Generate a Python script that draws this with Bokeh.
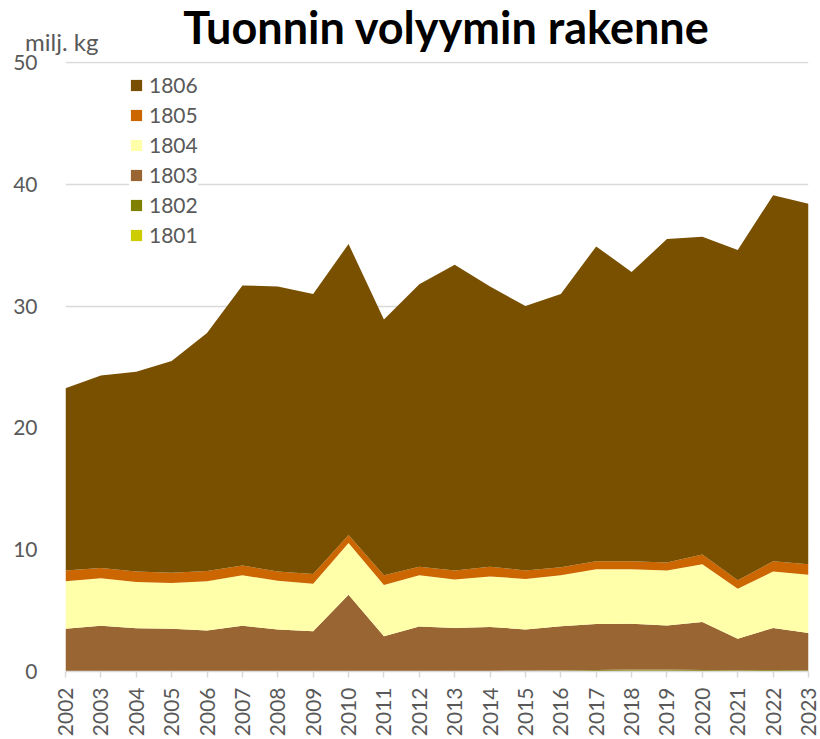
import math
from bokeh.plotting import figure
from bokeh.layouts import column
from bokeh.models import (ColumnDataSource, Legend, LegendItem, Div,
                          FixedTicker, Range1d)
from bokeh.core.properties import value
from bokeh.embed import file_html
from bokeh.resources import INLINE

years = [2002, 2003, 2004, 2005, 2006, 2007, 2008, 2009, 2010, 2011, 2012,
         2013, 2014, 2015, 2016, 2017, 2018, 2019, 2020, 2021, 2022, 2023]
year_labels = [str(y) for y in years]

v1801 = [0.02, 0.02, 0.02, 0.02, 0.02, 0.02, 0.02, 0.02, 0.02, 0.02, 0.02,
         0.02, 0.02, 0.02, 0.03, 0.05, 0.06, 0.06, 0.05, 0.04, 0.05, 0.04]
v1802 = [0.03, 0.03, 0.03, 0.03, 0.03, 0.03, 0.03, 0.03, 0.03, 0.03, 0.03,
         0.03, 0.03, 0.04, 0.05, 0.08, 0.10, 0.10, 0.08, 0.06, 0.08, 0.06]
v1803 = [3.45, 3.70, 3.50, 3.45, 3.31, 3.70, 3.40, 3.25, 6.25, 2.85, 3.65,
         3.53, 3.61, 3.39, 3.64, 3.77, 3.77, 3.61, 3.94, 2.58, 3.45, 3.07]
v1804 = [3.90, 3.90, 3.80, 3.77, 4.04, 4.15, 4.00, 3.90, 4.25, 4.20, 4.20,
         3.97, 4.14, 4.15, 4.18, 4.50, 4.47, 4.53, 4.73, 4.12, 4.62, 4.78]
v1805 = [0.90, 0.85, 0.85, 0.83, 0.85, 0.80, 0.75, 0.80, 0.65, 0.80, 0.70,
         0.75, 0.80, 0.70, 0.65, 0.65, 0.65, 0.65, 0.80, 0.70, 0.85, 0.85]
v1806 = [14.95, 15.80, 16.40, 17.40, 19.55, 23.00, 23.40, 23.00, 23.90, 21.00, 23.20,
         25.10, 23.00, 21.70, 22.45, 25.85, 23.75, 26.55, 26.10, 27.10, 30.05, 29.60]

series = ["1801", "1802", "1803", "1804", "1805", "1806"]
colors = ["#CCCC00", "#808000", "#996633", "#FFFFAA", "#CC6600", "#785000"]

title_text = "Tuonnin volyymin rakenne"
unit_text = "milj. kg"

FONT = "Lato"
GREY = "#595959"

# ---------- header (title + unit) ----------
header_html = (
    '<div style="position:relative;width:820px;height:60px;margin:0;padding:0;">'
    '<span style="position:absolute;left:446px;top:5px;transform:translateX(-50%);'
    'white-space:nowrap;font-family:Lato;font-weight:bold;font-size:45px;'
    'line-height:1;color:#000000;">' + title_text + '</span>'
    '<span style="position:absolute;left:25px;top:30px;white-space:nowrap;'
    'font-family:Lato;font-size:24px;line-height:1;color:' + GREY + ';">'
    + unit_text + '</span></div>'
)
hdr = Div(text=header_html, width=820, height=60,
          styles={"margin": "0", "padding": "0", "overflow": "visible",
                  "position": "relative", "z-index": "1"})

# ---------- main chart ----------
source = ColumnDataSource(dict(year=years, s1801=v1801, s1802=v1802, s1803=v1803,
                               s1804=v1804, s1805=v1805, s1806=v1806))

p = figure(width=820, height=691, output_backend="svg", toolbar_location=None,
           title=None, x_range=Range1d(2002, 2023), y_range=Range1d(0, 50.08),
           min_border_left=65, min_border_right=12, min_border_top=13,
           min_border_bottom=67)
p.margin = (-12, 0, 0, 0)
p.outline_line_color = None
p.background_fill_color = "white"
p.border_fill_alpha = 0

renderers = p.varea_stack(stackers=["s" + s for s in series], x="year",
                          color=colors, source=source)

p.xaxis.ticker = FixedTicker(ticks=years)
p.xaxis.major_label_overrides = {y: l for y, l in zip(years, year_labels)}
p.xaxis.major_label_orientation = math.pi / 2
p.xaxis.axis_line_color = "#D9D9D9"
p.xaxis.axis_line_width = 1.5
p.xaxis.major_tick_line_color = "#D9D9D9"
p.xaxis.major_tick_line_width = 1.5
p.xaxis.major_tick_in = 0
p.xaxis.major_tick_out = 6
p.xaxis.minor_tick_line_color = None
p.xaxis.major_label_text_font = FONT
p.xaxis.major_label_text_font_size = "21px"
p.xaxis.major_label_text_color = GREY
p.xaxis.major_label_standoff = 10

p.yaxis.ticker = FixedTicker(ticks=[0, 10, 20, 30, 40, 50])
p.yaxis.axis_line_color = None
p.yaxis.major_tick_line_color = None
p.yaxis.minor_tick_line_color = None
p.yaxis.major_label_text_font = FONT
p.yaxis.major_label_text_font_size = "21px"
p.yaxis.major_label_text_color = GREY
p.yaxis.major_label_standoff = 22

p.xgrid.grid_line_color = None
p.ygrid.grid_line_color = "#D9D9D9"
p.ygrid.grid_line_width = 1.5

items = [LegendItem(label=value(s), renderers=[r]) for s, r in zip(series, renderers)]
items = items[::-1]
legend = Legend(items=items, location=(64, 424), orientation="vertical",
                background_fill_color="white", background_fill_alpha=1.0,
                border_line_color=None, padding=10, spacing=5,
                glyph_width=14, glyph_height=14, label_height=25,
                label_standoff=6, margin=0,
                label_text_font=FONT, label_text_font_size="21px",
                label_text_color=GREY)
p.add_layout(legend, "center")

layout = column(hdr, p, spacing=0)
open("out.html", "w").write(file_html(layout, INLINE))
